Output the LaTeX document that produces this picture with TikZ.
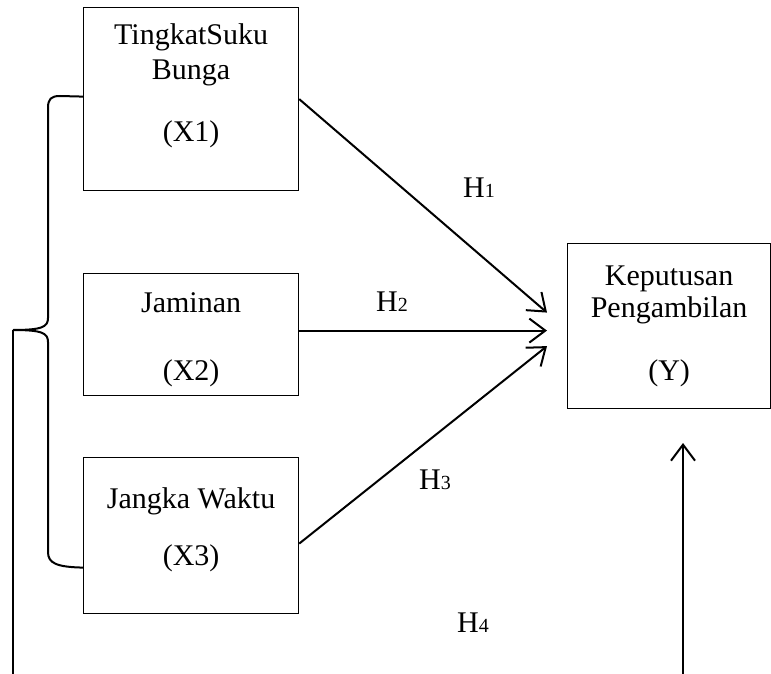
\documentclass[tikz,border=0pt]{standalone}
\usepackage{fontspec}
\setmainfont{Liberation Serif}
\usetikzlibrary{arrows.meta,calc}
% hypothesis label: H with a small digit on the baseline
\newcommand\hyplabel[1]{H{\fontsize{20}{20}\selectfont #1}}
\begin{document}
\begin{tikzpicture}[x=1pt,y=-1pt,
  varbox/.style={draw, line width=1.2pt, inner sep=0pt, anchor=north west},
  lbl/.style={anchor=base, inner sep=0pt, font=\fontsize{30}{33}\selectfont},
  hyp/.style={anchor=base west, inner sep=0pt, font=\fontsize{30}{33}\selectfont},
  link/.style={line width=2pt, -{Straight Barb[length=16pt,width=24pt,line width=2pt]}},
  bracket/.style={line width=2pt},
]
\useasboundingbox (0,0) rectangle (771,674);

% variable boxes
\node[varbox, minimum width=215pt, minimum height=183pt] (x1) at (83,7) {};
\node[varbox, minimum width=215pt, minimum height=122pt] (x2) at (83,273) {};
\node[varbox, minimum width=215pt, minimum height=156pt] (x3) at (83,457) {};
\node[varbox, minimum width=203pt, minimum height=165pt] (y) at (567,243) {};

% box texts
\node[lbl] (x1a) at ($(x1.north)+(0,38)$) {TingkatSuku};
\node[lbl] (x1b) at ($(x1.north)+(0,73)$) {Bunga};
\node[lbl] (x1c) at ($(x1.north)+(0,135)$) {(X1)};
\node[lbl] (x2a) at ($(x2.north)+(0,39)$) {Jaminan};
\node[lbl] (x2b) at ($(x2.north)+(0,107)$) {(X2)};
\node[lbl] (x3a) at ($(x3.north)+(0,51)$) {Jangka Waktu};
\node[lbl] (x3b) at ($(x3.north)+(0,108)$) {(X3)};
\node[lbl] (ya) at ($(y.north)+(0,42)$) {Keputusan};
\node[lbl] (yb) at ($(y.north)+(0,74)$) {Pengambilan};
\node[lbl] (yc) at ($(y.north)+(0,137)$) {(Y)};

% hypothesis labels
\node[hyp] (h1) at (463,197) {\hyplabel{1}};
\node[hyp] (h2) at (376,311) {\hyplabel{2}};
\node[hyp] (h3) at (419,489) {\hyplabel{3}};
\node[hyp] (h4) at (457,632) {\hyplabel{4}};

% arrow tips in front of the dependent variable
\coordinate (t1) at ($(y.west)+(-20,-13.5)$);
\coordinate (t2) at ($(y.west)+(-20,4.5)$);
\coordinate (t3) at ($(y.west)+(-20,20)$);
\draw[link] (x1.east) -- (t1);
\draw[link] ($(x2.east)+(0,-4)$) -- (t2);
\draw[link] ($(x3.east)+(0,8)$) -- (t3);

% joint effect line
\coordinate (tip) at (13,330);
\coordinate (lbot) at (13,674);
\coordinate (rbot) at (683,674);
\coordinate (utip) at (683,443);
\coordinate (btop) at ($(x1.west)+(0,-2.5)$);
\coordinate (bbot) at ($(x3.west)+(0,32)$);
\draw[bracket] (btop) -- (60,96) .. controls (51,96) and (48,99) .. (48,108)
  -- (48,318) .. controls (48,327) and (42,330) .. (tip)
  .. controls (42,330) and (48,333) .. (48,342)
  -- (48,552) .. controls (48,563) and (56,567) .. (bbot);
\draw[line width=1.6pt] (tip) -- (lbot);
\draw[link] (rbot) -- (utip);
\end{tikzpicture}
\end{document}
